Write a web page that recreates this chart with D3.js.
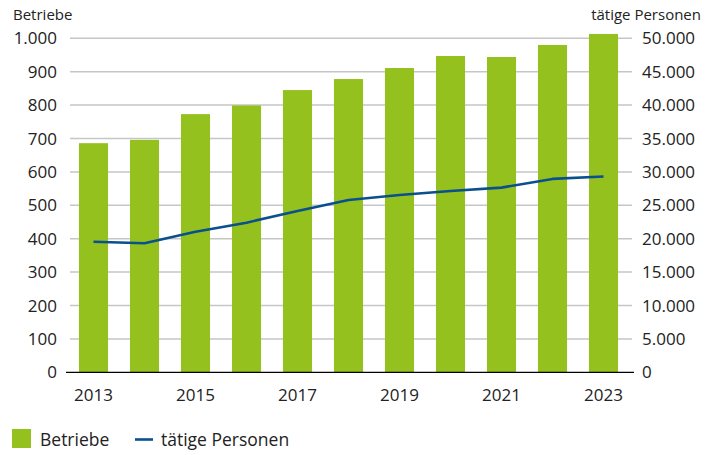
<!DOCTYPE html>
<html>
<head>
<meta charset="utf-8">
<script src="https://cdn.jsdelivr.net/npm/d3@7"></script>
<style>
  html, body { margin: 0; padding: 0; background: #fff; }
  svg { display: block; font-family: "Open Sans", sans-serif; }
</style>
</head>
<body>
<svg id="chart" width="705" height="455"></svg>
<script>
// Jahre, Anzahl der Betriebe und tätige Personen
const years = ["2013","2014","2015","2016","2017","2018","2019","2020","2021","2022","2023"];
const betriebe = [686, 696, 773, 799, 845, 878, 911, 947, 944, 980, 1013];
const personen = [19550, 19330, 21050, 22400, 24150, 25800, 26550, 27150, 27650, 28950, 29300];
const leftTicks = [0, 100, 200, 300, 400, 500, 600, 700, 800, 900, 1000];
const rightTicks = [0, 5000, 10000, 15000, 20000, 25000, 30000, 35000, 40000, 45000, 50000];
const xLabels = ["2013","2015","2017","2019","2021","2023"];

const green = "#95c11f";
const blue = "#0a4f8e";
const textColor = "#222";
const fmt = d => d3.format(",")(d).replace(/,/g, ".");

const svg = d3.select("#chart");
const plot = { left: 70, right: 632, top: 38.3, bottom: 372.3 };

const x = d3.scaleBand().domain(years).range([68, 629])
  .paddingInner(0.43).paddingOuter(0.215);
const yL = d3.scaleLinear().domain([0, 1000]).range([plot.bottom, plot.top]);
const yR = d3.scaleLinear().domain([0, 50000]).range([plot.bottom, plot.top]);

// Gitterlinien
svg.append("g").selectAll("line").data(leftTicks.filter(d => d > 0)).join("line")
  .attr("x1", plot.left).attr("x2", plot.right)
  .attr("y1", d => yL(d)).attr("y2", d => yL(d))
  .attr("stroke", "#c6c6c6").attr("stroke-width", 1.5);

// Balken: Betriebe
svg.append("g").selectAll("rect").data(years).join("rect")
  .attr("x", d => x(d)).attr("width", x.bandwidth())
  .attr("y", (d, i) => yL(betriebe[i]))
  .attr("height", (d, i) => yL(0) - yL(betriebe[i]))
  .attr("fill", green);

// Nulllinie
svg.append("line")
  .attr("x1", 66).attr("x2", 634)
  .attr("y1", yL(0)).attr("y2", yL(0))
  .attr("stroke", "#000").attr("stroke-width", 1.2);

// Linie: tätige Personen
const line = d3.line()
  .x((d, i) => x(years[i]) + x.bandwidth() / 2)
  .y(d => yR(d));
svg.append("path").datum(personen)
  .attr("d", line).attr("fill", "none")
  .attr("stroke", blue).attr("stroke-width", 2.6).attr("stroke-linejoin", "round");

// Achsenbeschriftungen links
const tickStyle = sel => sel.attr("font-size", 17).attr("fill", textColor);
svg.append("g").selectAll("text").data(leftTicks).join("text")
  .attr("x", 57).attr("y", d => yL(d)).attr("dy", "0.36em")
  .attr("text-anchor", "end").text(fmt).call(tickStyle);

// Achsenbeschriftungen rechts
svg.append("g").selectAll("text").data(rightTicks).join("text")
  .attr("x", 642).attr("y", d => yR(d)).attr("dy", "0.36em")
  .attr("text-anchor", "start").text(fmt).call(tickStyle);

// Jahre
svg.append("g").selectAll("text").data(xLabels).join("text")
  .attr("x", d => x(d) + x.bandwidth() / 2).attr("y", 401)
  .attr("text-anchor", "middle").text(d => d).call(tickStyle);

// Achsentitel
svg.append("text").attr("x", 13).attr("y", 20)
  .attr("font-size", 15).attr("fill", textColor).text("Betriebe");
svg.append("text").attr("x", 701).attr("y", 20).attr("text-anchor", "end")
  .attr("font-size", 15).attr("fill", textColor).text("tätige Personen");

// Legende
const leg = svg.append("g");
leg.append("rect").attr("x", 12).attr("y", 429).attr("width", 19).attr("height", 19).attr("fill", green);
leg.append("text").attr("x", 40).attr("y", 446).attr("font-size", 17.5).attr("fill", textColor).text("Betriebe");
leg.append("line").attr("x1", 135).attr("x2", 153).attr("y1", 439.5).attr("y2", 439.5)
  .attr("stroke", blue).attr("stroke-width", 2.6);
leg.append("text").attr("x", 161).attr("y", 446).attr("font-size", 17.5).attr("fill", textColor).text("tätige Personen");
</script>
</body>
</html>
